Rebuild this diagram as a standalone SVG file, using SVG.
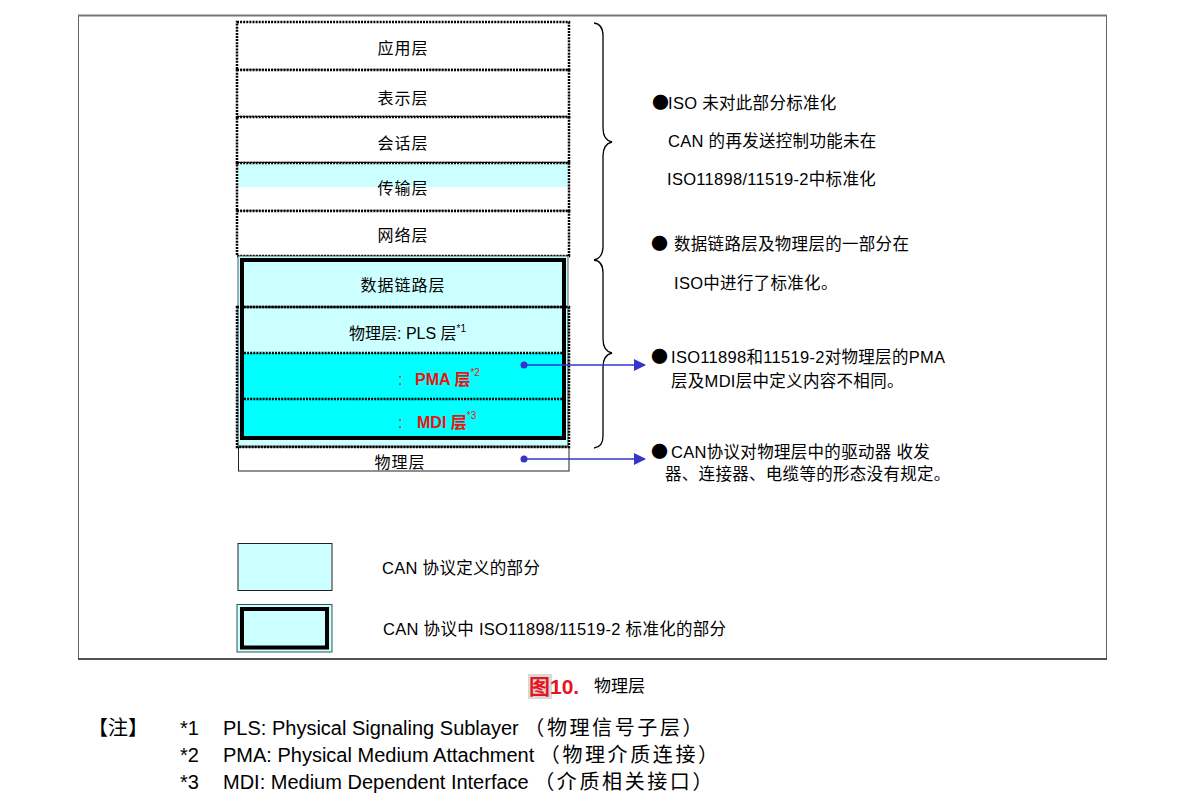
<svg xmlns="http://www.w3.org/2000/svg" width="1184" height="806" viewBox="0 0 1184 806">
<style>
text{font-family:"Liberation Sans","Noto Sans CJK SC",sans-serif;fill:#000}
.lay{font-size:16px;letter-spacing:1px;text-anchor:middle}
.note{font-size:16.5px;letter-spacing:0.3px}
.bul{font-family:"Noto Sans CJK SC",sans-serif;font-size:17px}
.red{fill:#ee1111;font-weight:bold;font-size:16px}
.sup{font-size:10px}
.dot{fill:none;stroke:#000;stroke-width:2.5;stroke-dasharray:2 1.1}
.brace{fill:none;stroke:#000;stroke-width:1.3}
.arr{stroke:#3535cc;stroke-width:1.5;fill:none}
.fn{font-size:20px}
.cj{letter-spacing:2.6px}
</style>
<defs>
<marker id="ah" markerWidth="12" markerHeight="12" refX="11" refY="6" orient="auto" markerUnits="userSpaceOnUse">
<path d="M0,0 L12,6 L0,12 Z" fill="#3535cc"/>
</marker>
</defs>
<rect x="0" y="0" width="1184" height="806" fill="#fff"/>
<g id="frame">
<rect x="78.5" y="15.5" width="1028" height="643.5" fill="none" stroke="#666" stroke-width="1"/>
<line x1="78" y1="15.5" x2="1107" y2="15.5" stroke="#777" stroke-width="2"/>
<line x1="78" y1="659" x2="1107" y2="659" stroke="#333" stroke-width="1.3"/>
</g>
<g id="layer-application">
<rect x="237" y="22" width="332" height="48" fill="#fff"/>
<rect x="237" y="22" width="332" height="48" class="dot"/>
<text class="lay" x="403" y="54">应用层</text>
</g>
<g id="layer-presentation">
<rect x="237" y="70" width="332" height="47" fill="#fff"/>
<rect x="237" y="70" width="332" height="47" class="dot"/>
<text class="lay" x="403" y="104">表示层</text>
</g>
<g id="layer-session">
<rect x="237" y="117" width="332" height="46" fill="#fff"/>
<rect x="237" y="117" width="332" height="46" class="dot"/>
<text class="lay" x="403" y="149">会话层</text>
</g>
<g id="layer-transport">
<rect x="237" y="163" width="332" height="48" fill="#fff"/>
<rect x="238" y="164" width="330" height="23" fill="#ccffff"/>
<rect x="237" y="163" width="332" height="48" class="dot"/>
<text class="lay" x="403" y="194">传输层</text>
</g>
<g id="layer-network">
<rect x="237" y="211" width="332" height="45" fill="#fff"/>
<rect x="237" y="211" width="332" height="45" class="dot"/>
<text class="lay" x="403" y="241">网络层</text>
</g>
<g id="layer-physical-bottom">
<rect x="238.5" y="447" width="330.5" height="24" fill="#fff" stroke="#222" stroke-width="1"/>
<text class="lay" x="400" y="468">物理层</text>
</g>
<g id="iso-standardized">
<rect x="238" y="256" width="330" height="190" fill="#ccffff" stroke="#333" stroke-width="0.8"/>
<rect x="244" y="353" width="318" height="84" fill="#00ffff"/>
<rect x="242" y="260" width="322" height="178" fill="none" stroke="#000" stroke-width="4"/>
<line x1="244" y1="307" x2="563" y2="307" class="dot"/>
<line x1="244" y1="353" x2="563" y2="353" class="dot"/>
<line x1="244" y1="399" x2="563" y2="399" class="dot"/>
<rect x="237" y="307" width="332" height="140" class="dot"/>
</g>
<g id="layer-datalink">
<text class="lay" x="403" y="291">数据链路层</text>
</g>
<g id="layer-pls">
<text x="349" y="339" style="font-size:16px">物理层: PLS 层<tspan class="sup" dy="-7">*1</tspan></text>
</g>
<g id="layer-pma">
<text x="398" y="385" style="font-size:16px;fill:#ee1111">:<tspan x="415" class="red">PMA 层</tspan><tspan class="sup" dy="-9" style="fill:#ee1111">*2</tspan></text>
</g>
<g id="layer-mdi">
<text x="398" y="428" style="font-size:16px;fill:#ee1111">:<tspan x="417" class="red">MDI 层</tspan><tspan class="sup" dy="-9" style="fill:#ee1111">*3</tspan></text>
</g>
<g id="braces">
<path class="brace" d="M594,23 Q603,24 603,36 L603,128 Q603,140 612,142 Q603,144 603,156 L603,246 Q603,258 594,260"/>
<path class="brace" d="M594,260 Q603,261 603,273 L603,339 Q603,351 612,353 Q603,355 603,367 L603,436 Q603,447 594,448"/>
</g>
<g id="connectors">
<circle cx="524" cy="365" r="3.5" fill="#3535cc"/>
<line class="arr" x1="524" y1="365" x2="645" y2="365" marker-end="url(#ah)"/>
<circle cx="524" cy="459" r="3.5" fill="#3535cc"/>
<line class="arr" x1="524" y1="459" x2="645" y2="459" marker-end="url(#ah)"/>
</g>
<g id="note-iso">
<text class="bul" x="652" y="109">●</text>
<text class="note" x="668" y="109">ISO 未对此部分标准化</text>
<text class="note" x="668" y="147">CAN 的再发送控制功能未在</text>
<text class="note" x="667" y="185">ISO11898/11519-2中标准化</text>
</g>
<g id="note-datalink">
<text class="bul" x="651" y="250">●</text>
<text class="note" x="674" y="250">数据链路层及物理层的一部分在</text>
<text class="note" x="674" y="289">ISO中进行了标准化。</text>
</g>
<g id="note-pma">
<text class="bul" x="651" y="363">●</text>
<text class="note" x="671" y="363">ISO11898和11519-2对物理层的PMA</text>
<text class="note" x="671" y="387">层及MDI层中定义内容不相同。</text>
</g>
<g id="note-physical">
<text class="bul" x="651" y="458">●</text>
<text class="note" x="671" y="458">CAN协议对物理层中的驱动器 收发</text>
<text class="note" x="665" y="480">器、连接器、电缆等的形态没有规定。</text>
</g>
<g id="legend-can">
<rect x="238" y="543.5" width="94" height="47" fill="#ccffff" stroke="#222" stroke-width="1"/>
<text class="note" x="382" y="574">CAN 协议定义的部分</text>
</g>
<g id="legend-iso">
<rect x="237" y="604.5" width="95" height="47.5" fill="#ccffff" stroke="#335555" stroke-width="1"/>
<rect x="242" y="609" width="85" height="38.5" fill="none" stroke="#000" stroke-width="4"/>
<text class="note" x="383" y="635">CAN 协议中 ISO11898/11519-2 标准化的部分</text>
</g>
<g id="caption">
<rect x="528" y="674" width="24" height="25" fill="#d9d9d9"/>
<text x="529" y="694" style="font-size:21px;font-weight:bold;fill:#e8141c">图10.</text>
<text x="594" y="692" style="font-size:17px">物理层</text>
</g>
<g id="footnotes">
<text class="fn" x="88" y="735">【注】</text>
<text class="fn" x="180" y="735">*1</text>
<text class="fn" x="223" y="735">PLS: Physical Signaling Sublayer <tspan class="cj">（物理信号子层）</tspan></text>
<text class="fn" x="180" y="762">*2</text>
<text class="fn" x="223" y="762">PMA: Physical Medium Attachment <tspan class="cj">（物理介质连接）</tspan></text>
<text class="fn" x="180" y="789">*3</text>
<text class="fn" x="223" y="789">MDI: Medium Dependent Interface <tspan class="cj">（介质相关接口）</tspan></text>
</g>
</svg>
